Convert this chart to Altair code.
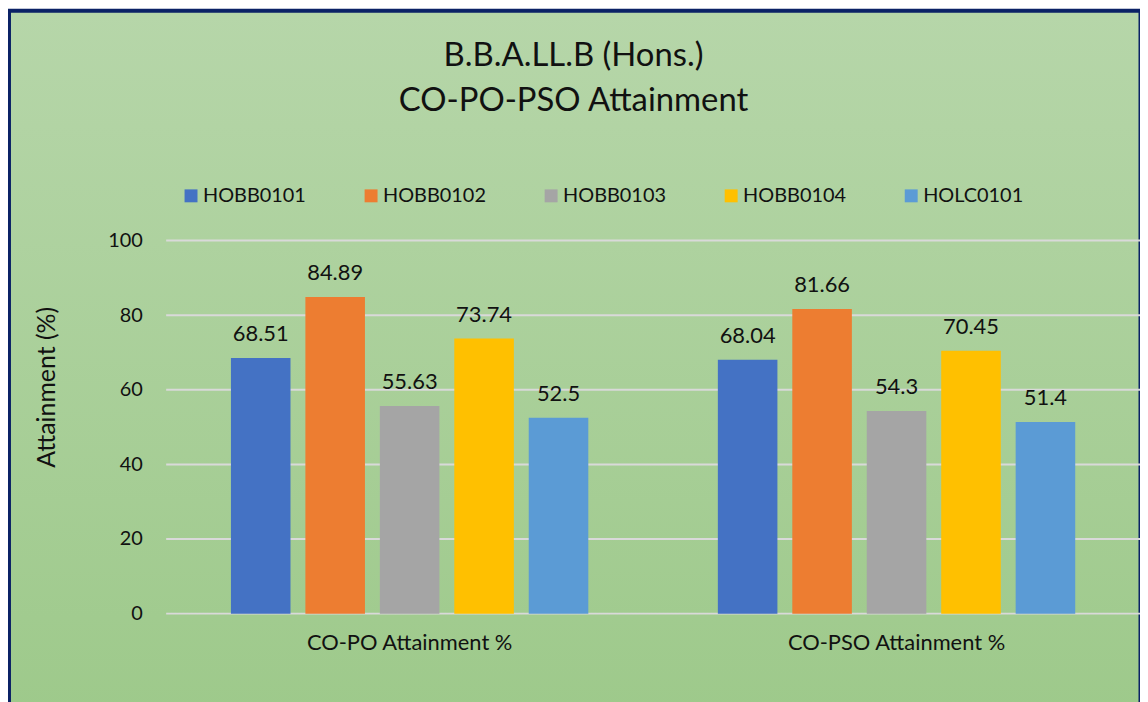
import altair as alt
import pandas as pd

categories = ["CO-PO Attainment %", "CO-PSO Attainment %"]
courses = ["HOBB0101", "HOBB0102", "HOBB0103", "HOBB0104", "HOLC0101"]
co_po = [68.51, 84.89, 55.63, 73.74, 52.5]
co_pso = [68.04, 81.66, 54.3, 70.45, 51.4]
colors = ["#4472C4", "#ED7D31", "#A5A5A5", "#FFC000", "#5B9BD5"]
y_ticks = [0, 20, 40, 60, 80, 100]
title_lines = ["B.B.A.LL.B (Hons.)", "CO-PO-PSO Attainment"]

rows = []
for cat, vals in zip(categories, [co_po, co_pso]):
    for c, v in zip(courses, vals):
        rows.append({"category": cat, "course": c, "value": v, "label": str(v)})
df = pd.DataFrame(rows)
grid_df = pd.DataFrame({"tick": y_ticks})

FONT = "Lato"
W, H = 979, 375

x_enc = alt.X(
    "category:N", sort=categories,
    scale=alt.Scale(paddingInner=0, paddingOuter=0),
    axis=alt.Axis(title=None, labelAngle=0, domain=False, ticks=False, tickSize=0,
                  labelFontSize=22, labelFont=FONT, labelColor="#111111", labelPadding=19,
                  labelLimit=500, zindex=1),
)
xo_enc = alt.XOffset("course:N", sort=courses,
                     scale=alt.Scale(paddingInner=0.2, paddingOuter=0.87))
y_scale = alt.Scale(domain=[0, 100], nice=False)

bg = alt.Chart(pd.DataFrame({"a": [0]})).mark_rect(
    fill=alt.Gradient(
        gradient="linear",
        stops=[alt.GradientStop(color="#b6d6a9", offset=0),
               alt.GradientStop(color="#9dc98a", offset=1)],
        x1=0, x2=0, y1=0, y2=1),
    stroke="#0b2266", strokeWidth=4,
).encode(x=alt.value(-158), x2=alt.value(W + 0.5), y=alt.value(-231), y2=alt.value(H + 120))

grid = alt.Chart(grid_df).mark_rule(color="#d9d9d9", strokeWidth=2).encode(
    y=alt.Y("tick:Q", scale=y_scale)
)

bars = alt.Chart(df).mark_bar().encode(
    x=x_enc,
    xOffset=xo_enc,
    y=alt.Y("value:Q", scale=y_scale,
            axis=alt.Axis(values=y_ticks, title="Attainment (%)", grid=False, domain=False,
                          ticks=False, tickSize=0, labelFontSize=20, labelFont=FONT,
                          labelColor="#111111", labelPadding=24, zindex=1,
                          titleFontSize=25, titleFont=FONT, titleFontWeight="normal",
                          titleColor="#111111", titleAngle=270, titleX=-120, titleY=147,
                          titleAlign="center", titleBaseline="middle")),
    color=alt.Color("course:N", sort=courses,
                    scale=alt.Scale(domain=courses, range=colors),
                    legend=alt.Legend(orient="none", legendX=15, legendY=-55,
                                      direction="horizontal", columns=5, title=None,
                                      symbolType="square", symbolSize=169,
                                      symbolStrokeWidth=0, labelFontSize=20,
                                      labelFont=FONT, labelColor="#111111",
                                      labelOffset=2, columnPadding=55, zindex=1)),
)

labels = alt.Chart(df).mark_text(
    dy=-17, baseline="alphabetic", fontSize=22, font=FONT, color="#111111"
).encode(
    x=x_enc, xOffset=xo_enc,
    y=alt.Y("value:Q", scale=y_scale),
    text="label:N",
)

chart = alt.layer(bg, grid, bars, labels).properties(
    width=W, height=H,
    title=alt.TitleParams(text=title_lines, fontSize=33, font=FONT, fontWeight="normal",
                          color="#111111", anchor="middle", dx=-80, offset=-110,
                          lineHeight=46, zindex=1),
    autosize=alt.AutoSizeParams(type="none"),
    padding={"left": 159, "top": 232, "right": 0, "bottom": 87},
).configure(background="#ffffff").configure_view(stroke=None)

chart.save("out.html", embed_options={"renderer": "svg", "actions": False})
